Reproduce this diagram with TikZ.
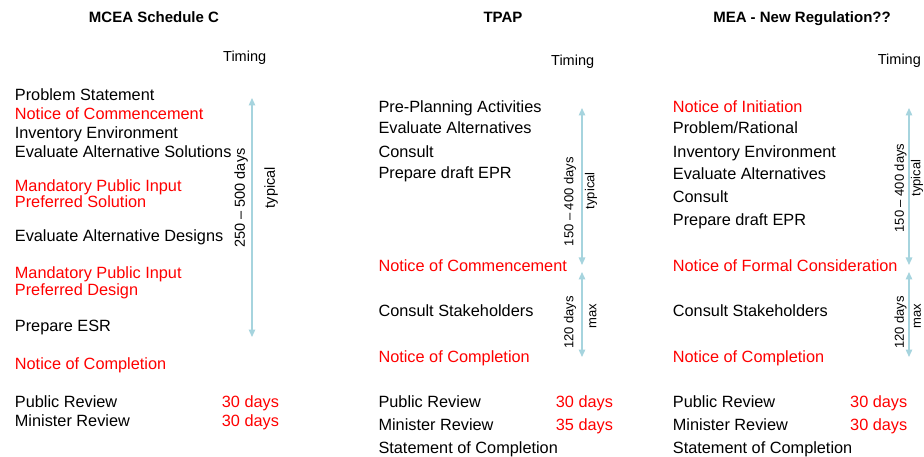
\documentclass[tikz,border=0pt]{standalone}
\usepackage{fontspec}
\setmainfont{Liberation Sans}
\usetikzlibrary{arrows.meta}
\definecolor{noticered}{RGB}{255,0,0}
\definecolor{timeline}{RGB}{166,212,222}
\begin{document}
\begin{tikzpicture}[x=1pt,y=-1pt,
  item/.style={anchor=base west, inner sep=0pt, font=\fontsize{16.3}{19}\selectfont, text=black},
  notice/.style={item, text=noticered},
  heading/.style={anchor=base, inner sep=0pt, font=\fontsize{15}{18}\selectfont\bfseries},
  timinglbl/.style={anchor=base west, inner sep=0pt, font=\fontsize{14.5}{17}\selectfont},
  span/.style={draw=timeline, line width=1.3pt, {Triangle[width=6.5pt,length=7.5pt]}-{Triangle[width=6.5pt,length=7.5pt]}},
  spanlbl/.style={rotate=90, inner sep=0pt, font=\fontsize{13}{15}\selectfont},
  bigspanlbl/.style={spanlbl, font=\fontsize{14.5}{17}\selectfont},
]
\fill[white] (0,0) rectangle (924,457);
\useasboundingbox (0,0) rectangle (924,457);

% ---------------- Column 1: MCEA Schedule C ----------------
\node[heading] (h1) at (154,22.7) {MCEA Schedule C};
\node[timinglbl] (tm1) at (223,61.7) {Timing};
\node[item]   (c1a) at (14.7,100.5) {Problem Statement};
\node[notice] (c1b) at (14.7,119.5) {Notice of Commencement};
\node[item]   (c1c) at (14.7,138.2) {Inventory Environment};
\node[item]   (c1d) at (14.7,157.2) {Evaluate Alternative Solutions};
\node[notice] (c1e) at (14.7,191.2) {Mandatory Public Input};
\node[notice] (c1f) at (14.7,207.2) {Preferred Solution};
\node[item]   (c1g) at (14.7,241.2) {Evaluate Alternative Designs};
\node[notice] (c1h) at (14.7,278.8) {Mandatory Public Input};
\node[notice] (c1i) at (14.7,295.5) {Preferred Design};
\node[item]   (c1j) at (14.7,331.5) {Prepare ESR};
\node[notice] (c1k) at (14.7,369.5) {Notice of Completion};
\node[item]   (c1l) at (14.7,407.2) {Public Review};
\node[item]   (c1m) at (14.7,426.2) {Minister Review};
\node[notice] (c1n) at (221.7,407.2) {30 days};
\node[notice] (c1o) at (221.7,426.2) {30 days};

\coordinate (a1top) at (252,98);
\coordinate (a1bot) at (252,337);
\draw[span] (a1top) -- (a1bot);
\node[bigspanlbl] (l1a) at (241,198)   {250 – 500 days};
\node[bigspanlbl] (l1b) at (271,187.5) {typical};

% ---------------- Column 2: TPAP ----------------
\node[heading] (h2) at (503,22.7) {TPAP};
\node[timinglbl] (tm2) at (551,65.7) {Timing};
\node[item]   (c2a) at (378.3,112.8) {Pre-Planning Activities};
\node[item]   (c2b) at (378.3,133.8) {Evaluate Alternatives};
\node[item]   (c2c) at (378.3,157.2) {Consult};
\node[item]   (c2d) at (378.3,178.8) {Prepare draft EPR};
\node[notice] (c2e) at (378.3,271.2) {Notice of Commencement};
\node[item]   (c2f) at (378.3,316.2) {Consult Stakeholders};
\node[notice] (c2g) at (378.3,362.2) {Notice of Completion};
\node[item]   (c2h) at (378.3,407.2) {Public Review};
\node[item]   (c2i) at (378.3,430.5) {Minister Review};
\node[item]   (c2j) at (378.3,453.8) {Statement of Completion};
\node[notice] (c2k) at (555.7,407.2) {30 days};
\node[notice] (c2l) at (555.7,430.5) {35 days};

\coordinate (a2top) at (582,108);
\coordinate (a2mid1) at (582,265);
\coordinate (a2mid2) at (582,272);
\coordinate (a2bot) at (582,357);
\draw[span] (a2top) -- (a2mid1);
\draw[span] (a2mid2) -- (a2bot);
\node[spanlbl] (l2a) at (570,201.7) {150 – 400 days};
\node[spanlbl] (l2b) at (591,190.8) {typical};
\node[spanlbl] (l2c) at (570,322.5) {120 days};
\node[spanlbl] (l2d) at (593,315.8) {max};

% ---------------- Column 3: MEA - New Regulation?? ----------------
\node[heading] (h3) at (802,22.7) {MEA - New Regulation??};
\node[timinglbl] (tm3) at (877.7,65) {Timing};
\node[notice] (c3a) at (672.7,112.8) {Notice of Initiation};
\node[item]   (c3b) at (672.7,133.8) {Problem/Rational};
\node[item]   (c3c) at (672.7,157.2) {Inventory Environment};
\node[item]   (c3d) at (672.7,179.5) {Evaluate Alternatives};
\node[item]   (c3e) at (672.7,202.2) {Consult};
\node[item]   (c3f) at (672.7,225.5) {Prepare draft EPR};
\node[notice] (c3g) at (672.7,271.2) {Notice of Formal Consideration};
\node[item]   (c3h) at (672.7,316.2) {Consult Stakeholders};
\node[notice] (c3i) at (672.7,362.2) {Notice of Completion};
\node[item]   (c3j) at (672.7,407.2) {Public Review};
\node[item]   (c3k) at (672.7,430.5) {Minister Review};
\node[item]   (c3l) at (672.7,453.8) {Statement of Completion};
\node[notice] (c3m) at (850,407.2) {30 days};
\node[notice] (c3n) at (850,430.5) {30 days};

\coordinate (a3top) at (909,108);
\coordinate (a3mid1) at (909,265);
\coordinate (a3mid2) at (909,272);
\coordinate (a3bot) at (909,357);
\draw[span] (a3top) -- (a3mid1);
\draw[span] (a3mid2) -- (a3bot);
\node[spanlbl] (l3a) at (900.5,188) {150 – 400 days};
\node[spanlbl] (l3b) at (917,178) {typical};
\node[spanlbl] (l3c) at (900.5,322.5) {120 days};
\node[spanlbl] (l3d) at (917.5,316) {max};
\end{tikzpicture}
\end{document}
